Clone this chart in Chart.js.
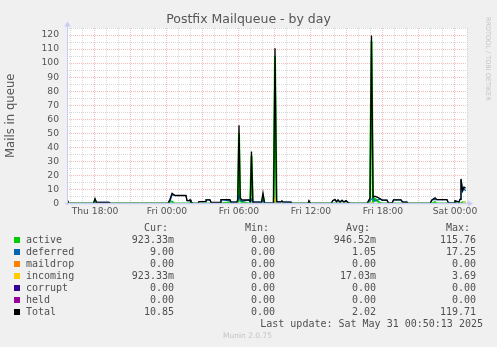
<!DOCTYPE html>
<html><head><meta charset="utf-8">
<script src="https://cdn.jsdelivr.net/npm/chart.js@4/dist/chart.umd.min.js"></script>
<style>
html,body{margin:0;padding:0;background:#F0F0F0;}
#wrap{position:relative;width:497px;height:347px;overflow:hidden;background:#F0F0F0;}
#c{position:absolute;left:0;top:0;}
.t{position:absolute;white-space:pre;}
#title{left:0;width:497px;text-align:center;top:10.7px;font:12.5px/15px "DejaVu Sans";color:#555;}
.mono{font:10px/12px "DejaVu Sans Mono";color:#505050;}
.sq{position:absolute;width:6px;height:6px;}
#rrd{left:483.5px;top:17px;writing-mode:vertical-rl;font:6.5px/8px "DejaVu Sans";color:#c4c4c4;}
#munin{left:0;width:495px;text-align:center;top:331.3px;font:7.5px/9px "DejaVu Sans";color:#c4c4c4;}
</style></head><body>
<div id="wrap">
<canvas id="c" width="497" height="347"></canvas>
<div id="title" class="t">Postfix Mailqueue - by day</div>
<div id="rrd" class="t">RRDTOOL / TOBI OETIKER</div>
<div id="munin" class="t">Munin 2.0.75</div>
</div>
<script>
// time axis: hours since Thu 00:00
const xTickHours  = [18, 24, 30, 36, 42, 48];
const xTickLabels = ["Thu 18:00", "Fri 00:00", "Fri 06:00", "Fri 12:00", "Fri 18:00", "Sat 00:00"];

const times = [
15.67, 15.75, 17.88, 18.00, 18.13, 19.17, 19.29, 24.08, 24.25, 24.42,
24.58, 24.67, 25.58, 25.67, 25.83, 25.92, 26.00, 26.17, 26.58, 26.67,
27.17, 27.25, 27.58, 27.67, 28.42, 28.50, 29.25, 29.33, 29.83, 29.90,
30.00, 30.10, 30.25, 30.83, 30.94, 31.04, 31.15, 31.88, 32.00, 32.13,
32.88, 33.00, 33.13, 33.50, 33.58, 33.67, 34.33, 34.42, 35.75, 35.83,
35.96, 37.67, 37.83, 38.00, 38.13, 38.25, 38.42, 38.58, 38.75, 38.92,
39.08, 39.25, 40.67, 40.92, 41.04, 41.17, 41.33, 41.50, 41.75, 41.92,
42.33, 42.46, 42.75, 42.88, 43.50, 43.63, 44.00, 44.08, 45.92, 46.08,
46.33, 46.50, 47.33, 47.46, 47.92, 48.00, 48.17, 48.33, 48.42, 48.50,
48.63, 48.75, 48.88
];

const active = [
0, 0, 0, 2.5, 0, 0, 0, 0, 1.5, 1.3,
0.3, 0, 0, 0, 0, 0.5, 0, 0, 0, 0,
0, 0, 0, 0, 0, 0, 0.8, 0, 0, 1,
50, 1.5, 1, 0, 0.5, 34, 0, 0, 5, 0,
0, 105, 0, 0, 0, 0, 0, 0, 0, 0.5,
0, 0, 0, 0, 0, 0, 0, 0, 0, 0,
0, 0, 0, 2, 115.76, 1, 3.5, 2, 0.5, 0,
0, 0, 0, 0, 0, 0, 0, 0, 0, 0,
1, 0, 0, 0, 0, 1, 0, 0, 0, 0.25,
0.8, 0.6, 0.92
];

const deferred = [
2, 0, 0, 1, 0.8, 0.8, 0, 0, 1.5, 6,
6, 5.7, 5.7, 2, 2, 2.2, 1, 0, 0, 1.4,
1.4, 2.6, 2.6, 0.7, 0.7, 2.7, 1.9, 1, 1, 2,
5.7, 2.5, 1.5, 2.5, 1, 3, 1, 1, 2.4, 0.3,
0.3, 2, 1.2, 1.2, 1.8, 1, 1, 0, 0, 1.5,
0, 0, 2.2, 2.8, 1.2, 2.5, 1, 2.3, 1, 2,
0.8, 0, 0, 2, 3.24, 3.5, 1.7, 2.5, 3, 2.4,
2.4, 0.3, 0.3, 2.6, 2.6, 1, 1, 0, 0, 2.6,
3, 2.7, 2.7, 0.2, 0.2, 1, 1.5, 1, 3, 17.25,
8.5, 10.5, 9
];

const incoming = [
0, 0, 0, 0, 0, 0, 0, 0, 0, 0,
0, 0, 0, 0, 0, 0, 0, 0, 0, 0,
0, 0, 0, 0, 0, 0, 0, 0, 0, 0,
0, 0, 0, 0, 0, 0, 0, 0, 0, 0,
0, 3.5, 0, 0, 0, 0, 0, 0, 0, 0,
0, 0, 0, 0, 0, 0, 0, 0, 0, 0,
0, 0, 0, 0, 0.7, 0, 0, 0, 0, 0,
0, 0, 0, 0, 0, 0, 0, 0, 0, 0,
0, 0, 0, 0, 0, 0, 0, 0, 0, 0,
0, 0.6, 0.92
];

const total = [
2, 0, 0, 3.5, 0.8, 0.8, 0, 0, 3, 7.3,
6.3, 5.7, 5.7, 2, 2, 2.7, 1, 0, 0, 1.4,
1.4, 2.6, 2.6, 0.7, 0.7, 2.7, 2.7, 1, 1, 3,
55.7, 4, 2.5, 2.5, 1.5, 37, 1, 1, 7.4, 0.3,
0.3, 110.5, 1.2, 1.2, 1.8, 1, 1, 0, 0, 2,
0, 0, 2.2, 2.8, 1.2, 2.5, 1, 2.3, 1, 2,
0.8, 0, 0, 4, 119.7, 4.5, 5.2, 4.5, 3.5, 2.4,
2.4, 0.3, 0.3, 2.6, 2.6, 1, 1, 0, 0, 2.6,
4, 2.7, 2.7, 0.2, 0.2, 2, 1.5, 1, 3, 17.5,
9.3, 11.7, 10.85
];

// series that stayed at zero for the whole period
const zeroTimes = [15.67, 48.88];
const maildrop = [0, 0];
const corrupt  = [0, 0];
const held     = [0, 0];

const seriesNames  = ["active", "deferred", "maildrop", "incoming", "corrupt", "held", "Total"];
const seriesColors = ["#00CC00", "#0066B3", "#FF8000", "#FFCC00", "#330099", "#990099", "#000000"];
const curVals = [0.92333, 9.00, 0, 0.92333, 0, 0, 10.85];
const minVals = [0, 0, 0, 0, 0, 0, 0];
const avgVals = [0.94652, 1.05, 0, 0.01703, 0, 0, 2.02];
const maxVals = [115.76, 17.25, 0, 3.69, 0, 0, 119.71];
const lastUpdate = "Last update: Sat May 31 00:50:13 2025";

function pts(tt, vv){ return tt.map((t, i) => ({x: t, y: vv[i]})); }
const seriesData = [
  pts(times, active), pts(times, deferred), pts(zeroTimes, maildrop), pts(times, incoming),
  pts(zeroTimes, corrupt), pts(zeroTimes, held), pts(times, total)
];
const widths = [2, 1.2, 1.2, 1.2, 1.2, 1.2, 1.3];
const datasets = seriesNames.map((n, i) => ({
  label: n, data: seriesData[i], borderColor: seriesColors[i], backgroundColor: seriesColors[i],
  borderWidth: widths[i], fill: false, pointRadius: 0, tension: 0, order: seriesNames.length - 1 - i
}));

const AXIS = '#C6CCF2';
const MAJOR = 'rgba(235,150,150,0.65)';
const MINOR = 'rgba(190,190,190,0.6)';

const rrdPlugin = {
  id: 'rrd',
  beforeDraw(chart){
    const {ctx, chartArea: a} = chart;
    ctx.save(); ctx.fillStyle = '#FFFFFF';
    ctx.fillRect(a.left, a.top, a.right - a.left, a.bottom - a.top);
    ctx.restore();
  },
  afterDatasetsDraw(chart){
    const {ctx, chartArea: a} = chart;
    const y0 = chart.scales.y.getPixelForValue(0);
    ctx.save();
    ctx.fillStyle = AXIS; ctx.strokeStyle = AXIS; ctx.lineWidth = 1;
    // x axis (covers the zero-valued lines, as rrdtool's axis does)
    ctx.fillRect(a.left - 2, y0 - 0.75, a.right - a.left + 5, 1.5);
    // y axis
    ctx.beginPath();
    ctx.moveTo(a.left + 0.5, y0 + 2); ctx.lineTo(a.left + 0.5, a.top - 3);
    ctx.stroke();
    ctx.beginPath();
    ctx.moveTo(a.right + 6, y0); ctx.lineTo(a.right + 1, y0 - 3); ctx.lineTo(a.right + 1, y0 + 3); ctx.closePath(); ctx.fill();
    ctx.beginPath();
    ctx.moveTo(a.left + 0.5, a.top - 6.5); ctx.lineTo(a.left - 2.5, a.top - 1.5); ctx.lineTo(a.left + 3.5, a.top - 1.5); ctx.closePath(); ctx.fill();
    ctx.restore();
  }
};

const tickFont = {family: 'DejaVu Sans', size: 9.2};
new Chart(document.getElementById('c'), {
  type: 'line',
  data: {datasets},
  options: {
    responsive: false, animation: false, devicePixelRatio: 1,
    layout: {padding: {left: 0, right: 30, top: 28, bottom: 0}},
    plugins: {legend: {display: false}, title: {display: false}, tooltip: {enabled: false}},
    scales: {
      x: {
        type: 'linear', min: 15.6667, max: 49,
        afterFit(s){ s.height = 143.5; },
        ticks: {stepSize: 1, autoSkip: false, maxRotation: 0, includeBounds: false, padding: 3,
          color: '#555', font: tickFont,
          callback(v){ const r = Math.round(v); if (Math.abs(v - r) > 1e-6) return ''; const i = xTickHours.indexOf(r); return i >= 0 ? xTickLabels[i] : ''; }},
        grid: {drawTicks: false, lineWidth: 1,
          color(c){ const r = Math.round(c.tick ? c.tick.value : 0); return r % 3 === 0 ? MAJOR : MINOR; }},
        border: {display: false, dash: [1, 1]}
      },
      y: {
        min: 0, max: 125,
        afterFit(s){ s.width = 67; },
        ticks: {stepSize: 5, autoSkip: false, padding: 8, color: '#555', font: tickFont,
          callback(v){ return Math.round(v) % 10 === 0 ? String(Math.round(v)) : ''; }},
        grid: {drawTicks: false, lineWidth: 1,
          color(c){ const r = Math.round(c.tick ? c.tick.value : 0); return r % 10 === 0 ? MAJOR : MINOR; }},
        border: {display: false, dash: [1, 1]},
        title: {display: true, text: 'Mails in queue', color: '#555',
          font: {family: 'DejaVu Sans', size: 11.7}, padding: {top: 4, bottom: 0}}
      }
    }
  },
  plugins: [rrdPlugin]
});

// legend (rrdtool style text block)
function fmt(v){ if (v !== 0 && Math.abs(v) < 1) return (v * 1000).toFixed(2) + 'm'; return v.toFixed(2); }
const wrap = document.getElementById('wrap');
function addText(txt, left, top, cls, right){
  const d = document.createElement('div');
  d.className = 't ' + cls; d.textContent = txt;
  if (right !== undefined){ d.style.left = (right - 400) + 'px'; d.style.width = '400px'; d.style.textAlign = 'right'; }
  else d.style.left = left + 'px';
  d.style.top = top + 'px';
  wrap.appendChild(d);
}
const colRight = [174, 275, 376, 476];
const headers = ["Cur:", "Min:", "Avg:", "Max:"];
headers.forEach((h, j) => addText(h, 0, 222, 'mono', colRight[j] - 6));
seriesNames.forEach((n, i) => {
  const top = 234 + 12 * i;
  const sq = document.createElement('div');
  sq.className = 'sq'; sq.style.left = '14px'; sq.style.top = (top + 2.5) + 'px'; sq.style.background = seriesColors[i];
  wrap.appendChild(sq);
  addText(n, 26, top, 'mono');
  [curVals, minVals, avgVals, maxVals].forEach((arr, j) => addText(fmt(arr[i]), 0, top, 'mono', colRight[j]));
});
addText(lastUpdate, 0, 318, 'mono', 483);
</script>
</body></html>
